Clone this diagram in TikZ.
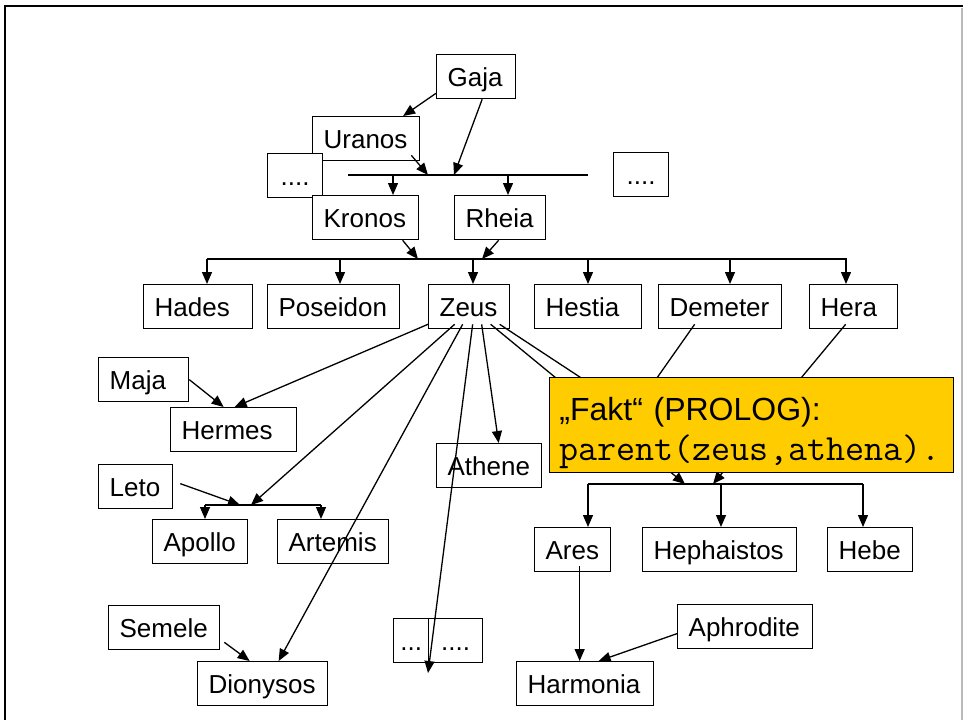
\documentclass[tikz,border=0pt]{standalone}
\usepackage{fontspec}
\setmainfont{Liberation Sans}
\usetikzlibrary{arrows.meta,calc}
\hyphenpenalty=10000
\definecolor{faktYellow}{HTML}{FFCC00}
\tikzset{fam/.style={draw, fill=white, line width=1.3pt, minimum height=44pt,
  inner xsep=11pt, inner ysep=0pt, text width=#1, text height=23pt, text depth=4pt,
  align=left, anchor=north west}}
\tikzset{dotbox/.style={draw, fill=white, line width=1.3pt, minimum height=44pt,
  minimum width=#1, inner sep=0pt, text height=23pt, text depth=4pt, anchor=north west}}
\tikzset{arr/.style={draw, line width=1.3pt, -{Triangle[length=12pt,width=10pt]}}}
\tikzset{ln/.style={draw, line width=1.3pt}}
\tikzset{fakt/.style={draw, fill=faktYellow, line width=0.8pt, anchor=north west,
  minimum width=404pt, minimum height=95pt, inner xsep=10pt, text width=384pt, align=left,
  font=\fontsize{32}{40}\selectfont}}

\begin{document}
\begin{tikzpicture}[x=1pt,y=-1pt]
        \tikzstyle{every node}=[font=\fontsize{26}{30}\selectfont]
        \useasboundingbox (0,0) rectangle (963,720);
        % frame
        \draw[line width=2.5pt] (5,720) -- (5,6) -- (963,6);
        \draw[gray!55, line width=1.5pt] (962,8) -- (962,720);
        %% boxes
        \node[fam=57pt] (gaja) at (436,54) {Gaja};
        \node[fam=85pt] (uranos) at (312,116) {Uranos};
        \node[dotbox=55pt] (dotl) at (267,153) {....};
        \node[dotbox=55pt] (dotr) at (613,152) {....};
        \node[fam=84pt] (kronos) at (312,195) {Kronos};
        \node[fam=69pt] (rheia) at (454,195) {Rheia};
        \node[fam=87pt] (hades) at (143,284) {Hades};
        \node[fam=110pt] (poseidon) at (267,284) {Poseidon};
        \node[fam=59pt] (zeus) at (428,284) {Zeus};
        \node[fam=85pt] (hestia) at (534,284) {Hestia};
        \node[fam=101pt] (demeter) at (658,284) {Demeter};
        \node[fam=66pt] (hera) at (809,284) {Hera};
        \node[fam=68pt] (maja) at (98,357) {Maja};
        \node[fam=104pt] (hermes) at (170,407) {Hermes};
        \node[fam=83pt] (athene) at (436,443) {Athene};
        \node[fam=52pt] (leto) at (98,464) {Leto};
        \node[fam=73pt] (apollo) at (152,519) {Apollo};
        \node[fam=89pt] (artemis) at (277,519) {Artemis};
        \node[fam=89pt] (semele) at (108,605) {Semele};
        \node[fam=108pt] (dionysos) at (197,661) {Dionysos};
        \node[dotbox=35pt] (dotsa) at (393,618) {...};
        \node[dotbox=54pt] (dotsb) at (428,618) {....};
        \node[fam=54pt] (ares) at (534,527) {Ares};
        \node[fam=132pt] (heph) at (642,527) {Hephaistos};
        \node[fam=63pt] (hebe) at (827,527) {Hebe};
        \node[fam=113pt] (aphro) at (677,604) {Aphrodite};
        \node[fam=115pt] (harmonia) at (516,661) {Harmonia};
        %% Gaja + Uranos
        \coordinate (ur) at (428,175);
        \coordinate (gj) at (454,175);
        \draw [ln] (348,175) -- (588,175);
        \draw [arr] ($(gaja.south west)+(0,-6)$) -- ($(uranos.north)+(37,0)$);
        \draw [arr] ($(gaja.south)+(6,0)$) -- (gj);
        \draw [arr] ($(uranos.south east)+(-9,-6)$) -- (ur);
        \foreach \x/\n in {393/kronos, 508/rheia}
            \draw [arr] (\x,175) -- (\x,175 |- \n.north);
        %% Kronos + Rheia
        \coordinate (kr) at (418,259);
        \coordinate (rh) at (482,259);
        \draw [ln] (207,259) -- (847,259);
        \draw [arr] ($(kronos.south)+(37,0)$) -- (kr);
        \draw [arr] ($(rheia.south)+(-1.5,0)$) -- (rh);
        \foreach \x/\n in {207/hades, 340/poseidon, 473/zeus, 588/hestia, 730/demeter, 846/hera}
            \draw [arr] (\x,259) -- (\x,259 |- \n.north);
        %% Zeus + ...
        \draw [arr] (maja.east) -- ($(hermes.north)+(-10,0)$);
        \draw [arr] ($(zeus.south west)+(0,-5)$) -- ($(hermes.north)+(1,0)$);
        \coordinate (lt) at (240,505);
        \coordinate (zl) at (251,505);
        \draw [ln] (205,505) -- (321,505);
        \draw [arr] ($(leto.east)+(7,-3)$) -- (lt);
        \draw [arr] ($(zeus.south)+(-14.5,-5)$) -- (zl);
        \foreach \x/\n in {205/apollo, 321/artemis}
            \draw [arr] (\x,505) -- (\x,505 |- \n.north);
        \draw [arr] ($(zeus.south)+(-6.5,-5)$) -- ($(dionysos.north)+(16,0)$);
        \draw [arr] ($(semele.south east)+(4,-8)$) -- ($(dionysos.north)+(-13,0)$);
        \coordinate (dend) at (428,673);
        \draw [arr] ($(zeus.south)+(3.5,-5)$) -- (dend);
        \draw [arr] ($(zeus.south)+(12.5,-5)$) -- ($(athene.north)+(9.5,0)$);
        %% Zeus + Hera, Zeus + Demeter
        \coordinate (zh) at (685,484);
        \coordinate (hz) at (713,484);
        \coordinate (zd) at (633,412);
        \draw [ln] (588,484) -- (863,484);
        \draw [arr] ($(zeus.south)+(21.5,-5)$) -- (zh);
        \draw [arr] ($(hera.south)+(-8,-5)$) -- (hz);
        \draw [ln] ($(zeus.south)+(30.5,-5)$) -- (zd);
        \draw [ln] ($(demeter.south)+(-25.5,-5)$) -- (zd);
        \foreach \x/\n in {588/ares, 721/heph, 863/hebe}
            \draw [arr] (\x,484) -- (\x,484 |- \n.north);
        %% Ares + Aphrodite
        \draw [arr] ($(ares.south)+(7,-6)$) coordinate (as) -- (as |- harmonia.north);
        \draw [arr] ($(aphro.west)+(0,7)$) -- ($(harmonia.north)+(13.5,0)$);
        %% PROLOG fact
        \node[fakt] (fact) at (549,377) {\rule{0pt}{40pt}„Fakt“ (PROLOG):\\
            {\fontsize{37}{40}\selectfont\ttfamily parent(zeus,athena).}};
\end{tikzpicture}
\end{document}
